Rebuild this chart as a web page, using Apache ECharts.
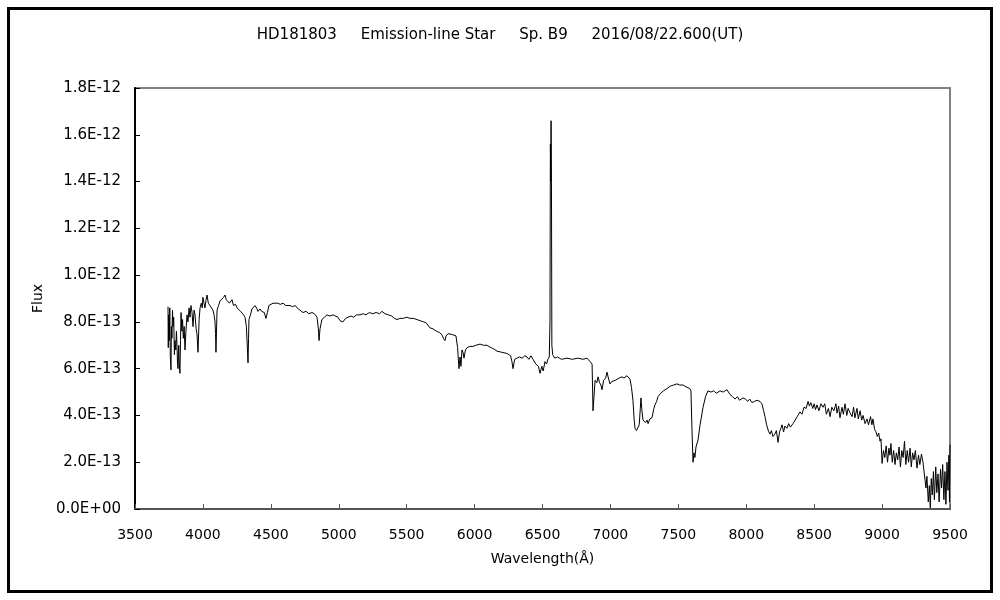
<!DOCTYPE html>
<html>
<head>
<meta charset="utf-8">
<script src="https://cdn.jsdelivr.net/npm/echarts@6/dist/echarts.min.js"></script>
<style>
html,body{margin:0;padding:0;background:#fff;}
#chart{width:1000px;height:600px;}
</style>
</head>
<body>
<div id="chart"></div>
<script>
// Wavelength (Å)
const wavelength = [
3743,3745,3748,3752,3756,3760,3765,3768,3772,3776,3780,3785,3790,3794,3800,3805,3809,3813,3817,3822,3826,3831,3835,3839,3845,3850,3856,3862,3868,3875,3883,3890,3898,3905,3912,3920,3927,3935,3942,3950,3956,3964,3972,3979,3988,3995,
4000,4008,4015,4022,4030,4040,4052,4060,4074,4082,4089,4093,4096,4100,4104,4115,4126,4140,4152,4163,4172,4185,4195,4205,4214,4225,4240,4251,4265,4278,4288,4300,4310,4320,4328,4332,4336,4339,4350,4361,4372,4383,4395,4405,4420,4432,4442,4452,4464,4475,4486,4500,4516,4530,4550,4570,4590,4610,4641,4660,4680,4693,4715,4737,4760,4780,4803,4820,4840,4850,4855,4862,4876,4895,4913,4935,4958,4975,4994,
5010,5031,5050,5068,5090,5110,5130,5156,5180,5200,5225,5250,5275,5300,5318,5340,5365,5390,5410,5429,5450,5475,5500,5525,5550,5576,5600,5625,5645,5657,5670,5694,5720,5740,5760,5770,5782,5790,5805,5819,5840,5863,5875,5885,5893,5900,5907,5915,5922,5933,5944,5965,5988,
6010,6040,6065,6091,6120,6140,6165,6200,6239,6265,6275,6283,6295,6312,6330,6350,6370,6386,6400,6415,6430,6450,6470,6482,6495,6505,6518,6530,6540,6550,6555,6558,6561,6563,6566,6569,6575,6590,6610,6640,6680,6720,6760,6800,6828,6850,6865,6872,6887,6900,6909,6920,6930,6938,6950,6965,6975,6985,6997,
7010,7019,7035,7048,7065,7085,7100,7122,7135,7144,7155,7166,7175,7181,7192,7203,7212,7220,7225,7232,7240,7250,7260,7270,7277,7290,7306,7320,7328,7340,7350,7370,7390,7417,7440,7465,7490,7510,7535,7564,7585,7593,7600,7608,7615,7622,7630,7645,7660,7682,7700,7718,7740,7760,7780,7807,7830,7858,7880,7900,7917,7935,7950,7976,7995,
8010,8025,8042,8060,8080,8101,8115,8128,8138,8150,8165,8175,8185,8197,8210,8222,8234,8245,8255,8263,8275,8285,8300,8312,8325,8344,8360,8375,8396,8410,8425,8440,8455,8465,8475,8490,8500,8510,8521,8535,8550,8565,8578,8590,8605,8617,8630,8645,8660,8668,8680,8690,8705,8715,8727,8740,8750,8765,8779,8790,8800,8815,8825,8838,8850,8860,8875,8889,8900,8915,8925,8933,8945,8955,8965,8975,8985,8992,
9000,9010,9020,9030,9040,9050,9058,9065,9075,9085,9095,9105,9115,9125,9135,9145,9155,9165,9175,9185,9195,9206,9215,9225,9235,9245,9257,9268,9278,9290,9301,9312,9323,9330,9340,9348,9355,9362,9370,9378,9385,9395,9403,9412,9420,9430,9438,9446,9455,9463,9470,9478,9485,9492,9496,9500];
// Flux in units of 1E-13
const fluxE13 = [
8.65,6.9,8.3,7.2,8.6,6.5,5.95,7.8,7.3,8.5,7.8,8.2,6.6,7.2,6.8,7.6,7.0,6.2,6.0,7.0,6.2,5.8,7.2,8.4,7.6,8.1,7.3,7.8,6.8,7.6,8.3,8.0,8.6,8.2,8.7,8.4,7.8,8.5,8.3,7.7,7.5,6.7,8.1,8.6,8.8,8.6,
9.05,8.8,8.6,8.9,9.15,8.8,8.7,8.75,8.5,8.3,8.0,7.5,6.7,7.6,8.5,8.7,8.9,8.95,9.05,9.15,8.95,9.0,8.8,8.85,8.95,8.7,8.75,8.6,8.65,8.45,8.5,8.3,8.2,7.8,6.8,6.25,7.3,8.1,8.3,8.55,8.5,8.7,8.6,8.45,8.55,8.45,8.45,8.4,8.15,8.4,8.7,8.75,8.8,8.75,8.8,8.75,8.8,8.7,8.7,8.65,8.7,8.6,8.5,8.4,8.45,8.35,8.4,8.35,8.2,7.7,7.2,7.7,8.1,8.2,8.3,8.25,8.3,8.25,8.2,
8.05,8.0,8.15,8.2,8.25,8.2,8.3,8.3,8.35,8.3,8.4,8.35,8.4,8.35,8.45,8.35,8.3,8.25,8.15,8.1,8.15,8.15,8.2,8.15,8.15,8.1,8.05,8.0,7.95,7.9,7.75,7.7,7.6,7.55,7.45,7.3,7.2,7.4,7.5,7.5,7.45,7.4,6.9,6.0,6.5,6.1,6.8,6.7,6.45,6.8,6.9,6.95,6.95,
7.0,7.05,7.0,7.0,6.9,6.85,6.75,6.7,6.65,6.55,6.3,6.0,6.4,6.45,6.5,6.45,6.55,6.5,6.4,6.55,6.4,6.2,6.1,5.8,6.1,5.9,6.3,6.2,6.4,6.5,8.0,15.6,14.0,16.6,14.0,7.0,6.6,6.45,6.5,6.4,6.45,6.4,6.45,6.4,6.45,6.3,6.2,4.2,5.5,5.4,5.65,5.4,5.3,5.1,5.5,5.6,5.85,5.6,5.35,
5.45,5.4,5.5,5.55,5.6,5.65,5.6,5.7,5.65,5.55,5.2,4.65,3.8,3.45,3.35,3.3,3.6,4.3,4.75,4.2,3.8,3.85,3.7,3.8,3.65,3.85,3.9,4.3,4.45,4.6,4.8,4.95,5.05,5.15,5.25,5.3,5.35,5.3,5.3,5.2,5.15,5.05,3.5,2.0,2.4,2.2,2.65,2.95,3.6,4.35,4.8,5.05,5.0,5.05,4.95,5.05,5.0,5.1,4.9,4.8,4.7,4.8,4.65,4.75,4.7,
4.6,4.7,4.55,4.6,4.65,4.6,4.5,4.2,3.95,3.6,3.3,3.2,3.35,3.1,3.2,3.35,2.85,3.3,3.45,3.6,3.3,3.55,3.45,3.65,3.5,3.65,3.8,3.95,4.15,4.05,4.35,4.3,4.6,4.4,4.55,4.3,4.5,4.25,4.45,4.2,4.5,4.35,4.5,4.05,4.3,3.95,4.35,4.2,4.5,4.1,4.4,3.9,4.35,4.05,4.5,4.0,4.3,4.1,3.95,4.35,3.9,4.3,3.85,4.2,3.8,4.0,3.65,3.85,3.6,3.95,3.6,3.85,3.4,3.3,3.1,3.25,2.9,3.0,
1.95,2.5,2.2,2.7,2.0,2.6,2.3,2.8,2.0,2.5,1.9,2.4,2.1,2.65,1.8,2.5,2.2,2.9,1.9,2.5,2.0,2.6,1.8,2.4,2.1,2.5,1.75,2.3,1.9,2.35,2.0,2.05,0.9,1.4,0.3,1.0,0.05,1.3,0.6,1.6,0.4,1.8,0.7,1.5,0.3,1.7,0.9,1.9,0.4,1.6,0.2,2.0,0.8,2.3,0.3,2.75];

const titleText = 'HD181803     Emission-line Star     Sp. B9     2016/08/22.600(UT)';
const xName = 'Wavelength(Å)';
const yName = 'Flux';

function fmtY(v){
  if (v === 0) return '0.0E+00';
  if (v >= 10) return (v/10).toFixed(1) + 'E-12';
  return v.toFixed(1) + 'E-13';
}

const FONT = 'DejaVu Sans';
const chart = echarts.init(document.getElementById('chart'), null, {renderer:'canvas'});
chart.setOption({
  animation:false,
  backgroundColor:'#fff',
  title:{text:titleText,left:'center',top:23,textStyle:{fontFamily:FONT,fontSize:15,fontWeight:'normal',color:'#000'}},
  graphic:[{type:'rect',shape:{x:8.5,y:8.5,width:983,height:583},style:{fill:'none',stroke:'#000',lineWidth:3},silent:true}],
  grid:{left:135,right:50,top:88,bottom:91,show:true,borderColor:'#808080',borderWidth:2,backgroundColor:'transparent'},
  xAxis:{type:'value',min:3500,max:9500,interval:500,
    name:xName,nameLocation:'middle',nameGap:43,nameTextStyle:{fontFamily:FONT,fontSize:14,color:'#000'},
    axisLine:{show:true,lineStyle:{color:'#555',width:2}},
    axisTick:{show:true,inside:true,length:5,lineStyle:{color:'#555'}},
    axisLabel:{fontFamily:FONT,fontSize:14,color:'#000',margin:19,formatter:v=>String(v)},
    splitLine:{show:false}},
  yAxis:{type:'value',min:0,max:18,interval:2,
    name:yName,nameLocation:'middle',nameGap:88,nameRotate:90,nameTextStyle:{fontFamily:FONT,fontSize:14,color:'#000'},
    axisLine:{show:true,lineStyle:{color:'#000',width:2}},
    axisTick:{show:true,inside:true,length:5,lineStyle:{color:'#000'}},
    axisLabel:{fontFamily:FONT,fontSize:15,color:'#000',margin:14,formatter:fmtY},
    splitLine:{show:false}},
  series:[{type:'line',data:wavelength.map((w,i)=>[w,fluxE13[i]]),showSymbol:false,symbol:'none',
    lineStyle:{color:'#000',width:1},sampling:null}]
});
if (wavelength.length !== fluxE13.length) console.error('length mismatch', wavelength.length, fluxE13.length);
</script>
</body>
</html>
